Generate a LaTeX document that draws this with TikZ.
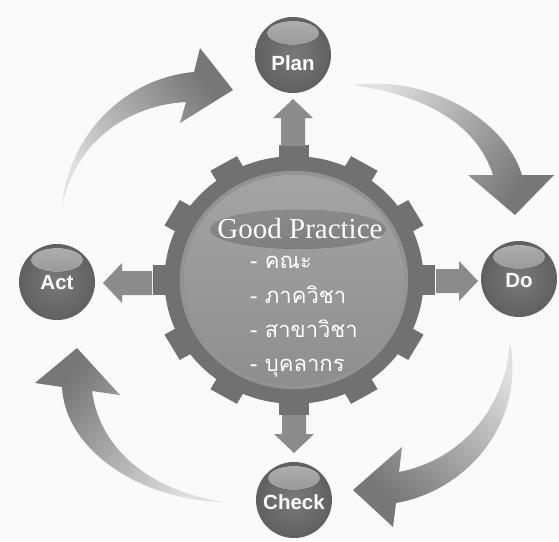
\documentclass[tikz,border=0pt]{standalone}
\usepackage{fontspec}
\setmainfont{Liberation Serif}
\newfontfamily\thaifont[Script=Thai]{Loma}
\newfontfamily\labelfont{Liberation Sans}
\usetikzlibrary{calc}

\definecolor{bgc}{HTML}{FAFAFA}
\definecolor{gearc}{HTML}{717171}
\definecolor{ringc}{HTML}{939393}
\definecolor{disktop}{HTML}{A4A4A4}
\definecolor{diskbot}{HTML}{8E8E8E}
\definecolor{glosstop}{HTML}{BDBDBD}
\definecolor{glossbot}{HTML}{ABABAB}
\definecolor{blockc}{HTML}{8B8B8B}
\definecolor{tailc}{HTML}{E0E0E0}
\definecolor{headc}{HTML}{777777}
\definecolor{stagein}{HTML}{7A7A7A}
\definecolor{stageout}{HTML}{606060}
\definecolor{stagegloss}{HTML}{C4C4C4}

% light tail, dark head along the shading axis
\pgfdeclarehorizontalshading{arrowfade}{100bp}{%
  color(0bp)=(tailc); color(24bp)=(tailc); color(72bp)=(headc); color(100bp)=(headc)}

\tikzset{
  stage/.style={circle, minimum size=76pt, inner sep=0pt,
    inner color=stagein, outer color=stageout,
    path picture={
      \fill[top color=stagegloss, bottom color=stagein, fill opacity=.9]
        ([yshift=-16pt]path picture bounding box.north) ellipse (26pt and 12pt);
    }},
  stagetext/.style={text=white, inner sep=0pt,
    font=\labelfont\bfseries\fontsize{20.5}{20.5}\selectfont},
  curved/.style={shading=arrowfade},
  thai/.style={anchor=base west, text=white, inner sep=0pt,
    font=\thaifont\fontsize{22}{22}\selectfont},
}

% block arrow: tail centre (#1,#2), direction #3, total length #4
\newcommand\blockarrow[4]{%
  \begin{scope}[shift={(#1,#2)}, rotate=#3]
    \fill[blockc] (0,-12) -- (#4-19,-12) -- (#4-19,-20) -- (#4,0)
      -- (#4-19,20) -- (#4-19,12) -- (0,12) -- cycle;
  \end{scope}}

\begin{document}
\begin{tikzpicture}[x=1pt,y=1pt]
\useasboundingbox (0,-541) rectangle (559,0);
\fill[bgc] (0,-541) rectangle (559,0);

% cycle arrows between the stages
\shade[curved, shading angle=38.6]
  (62,-207) .. controls (68,-135) and (125,-78) .. (194,-72)
  -- (200,-48) -- (233,-90) -- (180,-123) -- (186,-102)
  .. controls (130,-105) and (75,-140) .. (62,-207) -- cycle;
\shade[curved, shading angle=-35]
  (353,-85) .. controls (430,-75) and (505,-120) .. (522,-175)
  -- (554,-175) -- (515,-215) -- (468,-175) -- (493,-175)
  .. controls (475,-120) and (420,-95) .. (353,-85) -- cycle;
\shade[curved, shading angle=227]
  (510,-343) .. controls (525,-420) and (470,-490) .. (396,-503)
  -- (393,-527) -- (353,-490) -- (402,-447) -- (399,-472)
  .. controls (460,-460) and (505,-410) .. (510,-343) -- cycle;
\shade[curved, shading angle=139]
  (223,-502) .. controls (140,-500) and (65,-450) .. (62,-387)
  -- (35,-383) -- (77,-348) -- (120,-395) -- (92,-391)
  .. controls (100,-450) and (150,-490) .. (223,-502) -- cycle;

% gear
\begin{scope}[shift={(294,-280)}, xscale=1.02, yscale=0.975]
  \fill[gearc] (0,0) circle (127);
  \foreach \a in {0,30,...,330}
    \fill[gearc, rotate=\a] (118,-15) rectangle (138,15);
  \fill[ringc] (0,0) circle (112);
  \shade[top color=disktop, bottom color=diskbot] (0,0) circle (108);
  \fill[top color=glosstop, bottom color=glossbot, fill opacity=.6]
    (4,52) ellipse (86 and 20);
\end{scope}

% block arrows from the gear to the stages
\blockarrow{293}{-146}{90}{47}
\blockarrow{436}{-281}{0}{42}
\blockarrow{294}{-415}{-90}{38}
\blockarrow{152}{-283}{180}{49}

% stages
\node[stage] (plan)  at (293,-55)  {};
\node[stage] (do)    at (519,-279) {};
\node[stage] (check) at (294,-500) {};
\node[stage] (act)   at (57,-282)  {};
\node[stagetext] (tplan)  at ([yshift=-8pt]plan.center)  {Plan};
\node[stagetext] (tdo)    at ([yshift=-2pt]do.center)    {Do};
\node[stagetext] (tcheck) at ([yshift=-2pt]check.center) {Check};
\node[stagetext] (tact)   at ([yshift=-1pt]act.center)   {Act};

% centre text
\node[anchor=base, text=white, inner sep=0pt,
  font=\fontsize{29}{29}\selectfont] (gp) at (300,-238) {Good Practice};
\node[thai] (l1) at (250,-268) {- คณะ};
\node[thai] (l2) at (250,-303) {- ภาควิชา};
\node[thai] (l3) at (250,-337) {- สาขาวิชา};
\node[thai] (l4) at (250,-371) {- บุคลากร};
\end{tikzpicture}
\end{document}
